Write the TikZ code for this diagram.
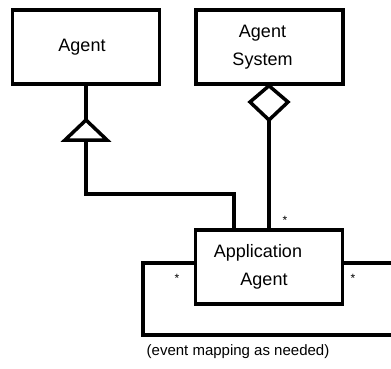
\documentclass[tikz,border=0pt]{standalone}
\usepackage{fontspec}
\setmainfont{Liberation Sans}
\begin{document}
\begin{tikzpicture}[x=1pt,y=-1pt,
  umlbox/.style={draw, line width=3.5pt, minimum width=147pt, minimum height=74pt,
    inner sep=0pt, align=center, font=\fontsize{18}{28}\selectfont},
  conn/.style={line width=3.5pt},
  mult/.style={font=\fontsize{12}{14}\selectfont, inner sep=0pt},
  note/.style={font=\fontsize{15}{18}\selectfont, inner sep=0pt}]
  \clip (0,0) rectangle (391,368);
  \fill[white] (0,0) rectangle (391,368);

  % classes (labels sit a little left of centre)
  \node[umlbox] (agent) at (86,47) {Agent\kern8pt};
  \node[umlbox] (sys) at (269.5,47) {Agent\kern14pt\\System\kern14pt};
  \node[umlbox] (app) at (269,267) {Application\kern22pt\\Agent\kern10pt};

  % generalisation: hollow triangle under Agent
  \coordinate (triTop) at (86,120);
  \coordinate (triL) at (65,140);
  \coordinate (triR) at (107,140);
  \coordinate (triBase) at (86,140);
  \coordinate (lvl) at (0,194);
  \coordinate (appIn) at ([xshift=-35pt]app.north);
  \draw[conn] (agent.south -| triTop) -- (triTop);
  \draw[conn, fill=white, line join=miter] (triTop) -- (triR) -- (triL) -- cycle;
  \draw[conn, line join=miter] (triBase) -- (triBase |- lvl) -- (appIn |- lvl) -- (appIn);

  % aggregation: hollow diamond under Agent System
  \coordinate (dTop) at (sys.south -| app.north);
  \coordinate (dL) at (250,102);
  \coordinate (dR) at (288,102);
  \coordinate (dBot) at (269,120);
  \draw[conn, fill=white, line join=miter] (dTop) -- (dR) -- (dBot) -- (dL) -- cycle;
  \draw[conn] (dBot) -- (app.north);

  % self association loop
  \coordinate (loopY) at (0,263);
  \coordinate (loopL) at (143,335);
  \coordinate (loopR) at (400,335);
  \draw[conn, line join=miter] (app.west |- loopY) -- (loopL |- loopY) -- (loopL)
    -- (loopR) -- (loopR |- loopY) -- (app.east |- loopY);

  % multiplicities
  \node[mult] (m1) at (285,220) {*};
  \node[mult] (m2) at (177,278) {*};
  \node[mult] (m3) at (353,278) {*};

  \node[note] (cap) at (238,352) {(event mapping as needed)};
\end{tikzpicture}
\end{document}
